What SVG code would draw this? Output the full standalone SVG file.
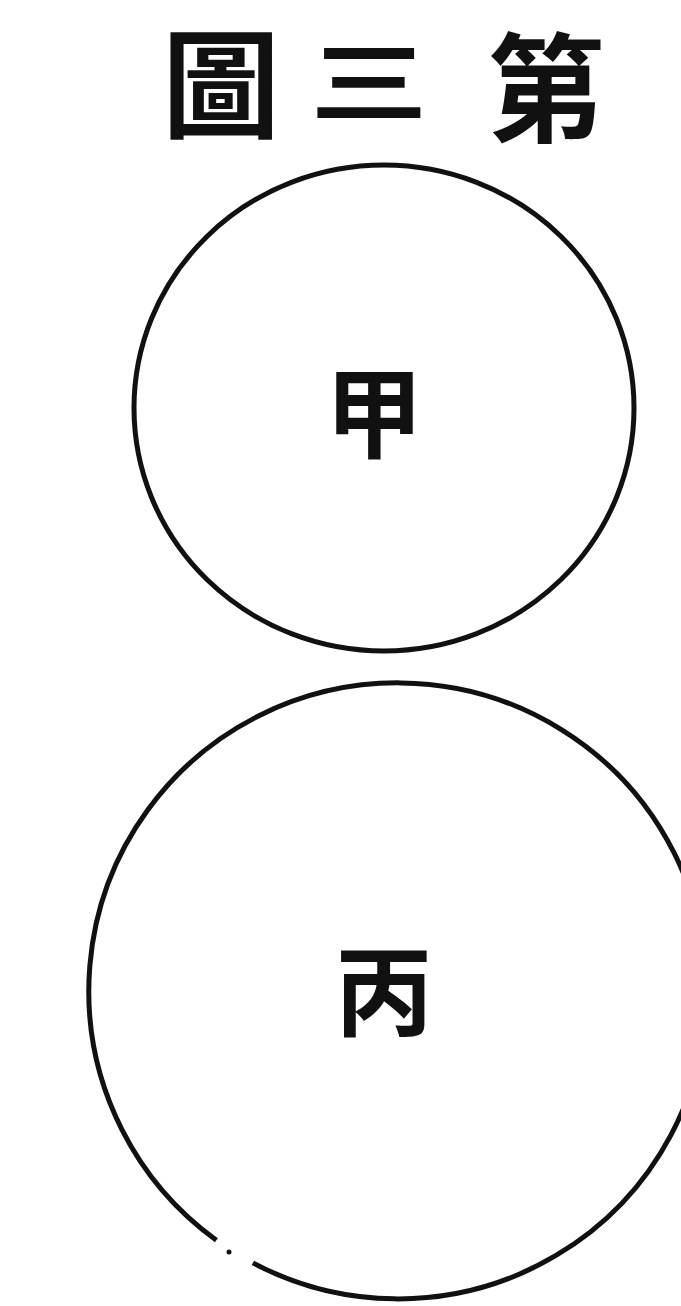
<svg xmlns="http://www.w3.org/2000/svg" width="681" height="1306" viewBox="0 0 681 1306">
<style>
.ring{fill:none;stroke:#111;stroke-width:5}
.t{font-family:"Noto Sans CJK TC","Noto Sans CJK SC",sans-serif;fill:#111;text-anchor:middle}
.title{font-size:118px;font-weight:700}
.lbl{font-size:98px;font-weight:700}
</style>
<rect width="681" height="1306" fill="#fff"/>
<g id="title">
<text class="t title" x="221" y="129">圖</text>
<text class="t title" x="369" y="137" transform="matrix(1 0 0 0.75 0 12.75)">三</text>
<text class="t title" x="546" y="133">第</text>
</g>
<g id="node-jia">
<ellipse class="ring" cx="384" cy="408" rx="250" ry="243"/>
<text class="t lbl" x="374" y="450">甲</text>
</g>
<g id="node-bing">
<path class="ring" d="M 216.4 1240.2 A 309 308 0 1 1 252.9 1262.9"/>
<circle cx="229" cy="1252" r="2.5" fill="#111"/>
<text class="t lbl" x="384" y="1028">丙</text>
</g>
<g id="connectors"></g>
</svg>
